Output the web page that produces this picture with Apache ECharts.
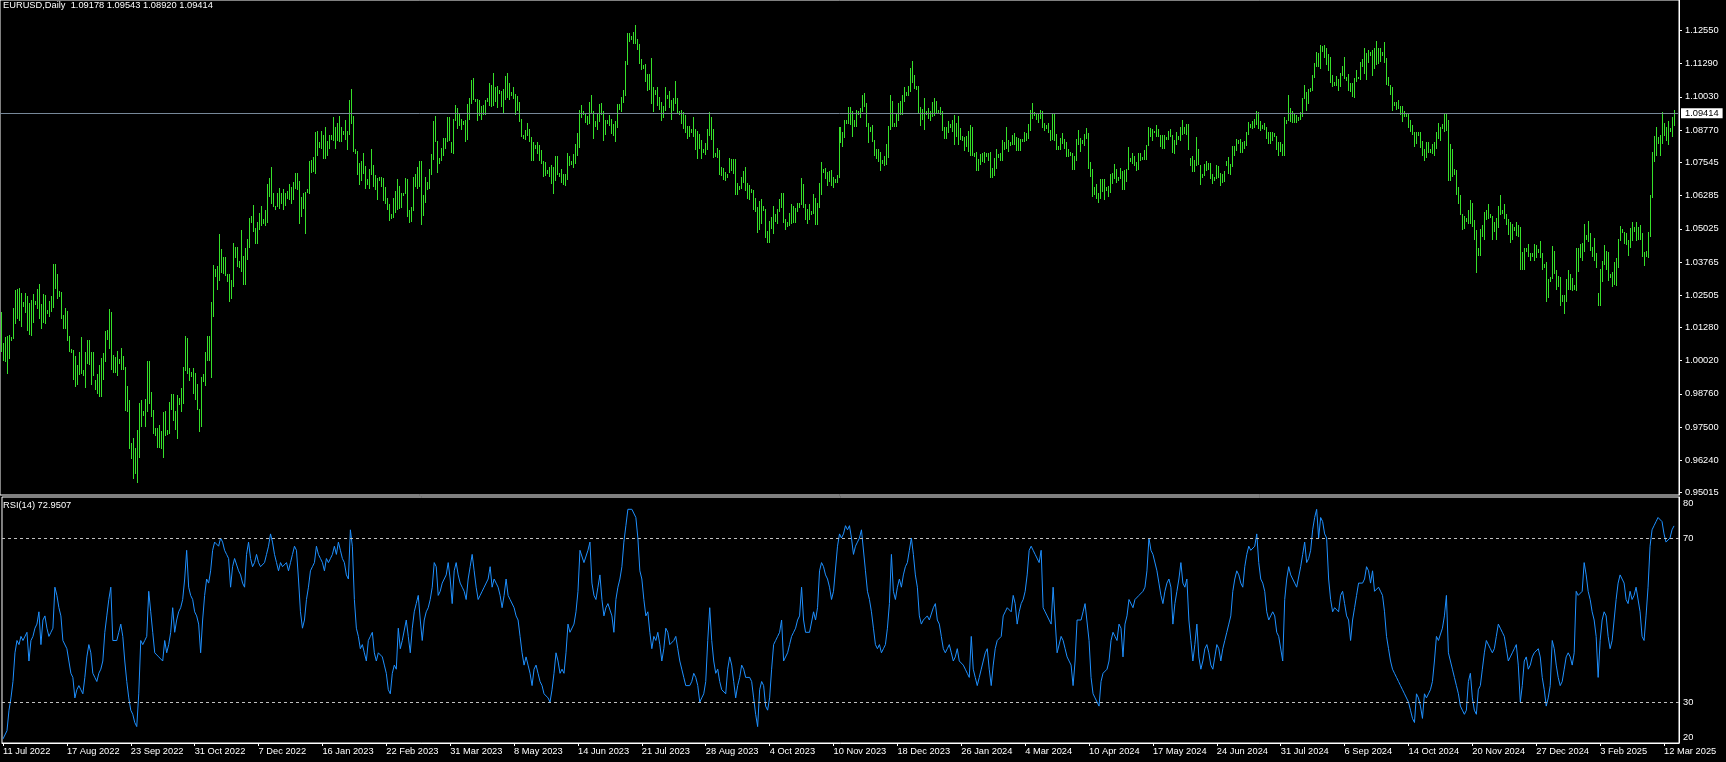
<!DOCTYPE html>
<html><head><meta charset="utf-8">
<script src="https://cdn.jsdelivr.net/npm/echarts@6/dist/echarts.min.js"></script>
<style>html,body{margin:0;padding:0;background:#000;overflow:hidden}#c{width:1726px;height:762px}</style>
</head><body><div id="c"></div><script>
const symbolTitle = 'EURUSD,Daily';
const lastOHLC = [1.09178, 1.09543, 1.08920, 1.09414];
const rsiTitle = 'RSI(14)';
const rsiLast = 72.9507;
const rsiLevels = [30, 70];
const rsiTicks = [20, 30, 70, 80];
const priceTicks = [0.95015, 0.96240, 0.97500, 0.98760, 1.00020, 1.01280, 1.02505, 1.03765, 1.05025, 1.06285, 1.07545, 1.08770, 1.10030, 1.11290, 1.12550];
const xTickLabels = ['11 Jul 2022','17 Aug 2022','23 Sep 2022','31 Oct 2022','7 Dec 2022','16 Jan 2023','22 Feb 2023','31 Mar 2023','8 May 2023','14 Jun 2023','21 Jul 2023','28 Aug 2023','4 Oct 2023','10 Nov 2023','18 Dec 2023','26 Jan 2024','4 Mar 2024','10 Apr 2024','17 May 2024','24 Jun 2024','31 Jul 2024','6 Sep 2024','14 Oct 2024','20 Nov 2024','27 Dec 2024','3 Feb 2025','12 Mar 2025'];
const barsPerTick = 32;

const highs = [
1.0185,1.0070,1.0090,1.0095,1.0098,1.0092,
1.0200,1.0269,1.0274,1.0278,1.0257,1.0225,
1.0258,1.0248,1.0220,1.0234,1.0254,1.0230,
1.0274,1.0294,1.0216,1.0254,1.0250,1.0195,
1.0229,1.0248,1.0368,1.0368,1.0329,1.0265,
1.0262,1.0174,1.0202,1.0191,1.0096,1.0048,
1.0043,1.0018,0.9986,1.0033,1.0090,0.9965,
1.0034,1.0080,1.0080,1.0036,1.0033,0.9930,
0.9951,0.9986,1.0011,1.0030,1.0113,1.0120,
1.0198,1.0187,1.0023,1.0017,1.0037,1.0010,
1.0050,1.0020,0.9976,0.9907,0.9853,0.9690,
0.9710,0.9669,0.9737,0.9842,0.9854,0.9810,
0.9855,0.9999,0.9999,0.9884,0.9813,0.9745,
0.9748,0.9757,0.9735,0.9806,0.9809,0.9740,
0.9846,0.9876,0.9875,0.9809,0.9871,0.9860,
0.9898,0.9976,1.0094,1.0088,0.9975,0.9960,
0.9975,0.9954,0.9914,0.9820,0.9940,0.9950,
1.0033,1.0096,1.0094,1.0223,1.0365,1.0350,
1.0363,1.0481,1.0425,1.0396,1.0395,1.0330,
1.0330,1.0307,1.0448,1.0433,1.0435,1.0380,
1.0497,1.0398,1.0428,1.0465,1.0545,1.0550,
1.0594,1.0505,1.0528,1.0564,1.0588,1.0540,
1.0574,1.0673,1.0695,1.0736,1.0638,1.0590,
1.0637,1.0658,1.0637,1.0655,1.0640,
1.0645,1.0671,1.0662,1.0680,1.0713,
1.0713,1.0685,1.0623,1.0638,1.0642,1.0655,
1.0760,1.0764,1.0776,1.0868,1.0874,1.0830,
1.0874,1.0857,1.0888,1.0837,1.0858,1.0860,
1.0927,1.0890,1.0905,1.0929,1.0887,1.0875,
1.0915,1.0874,1.0990,1.1033,1.0930,1.0805,
1.0797,1.0752,1.0760,1.0790,1.0742,1.0690,
1.0730,1.0805,1.0744,1.0705,1.0696,1.0700,
1.0700,1.0695,1.0661,1.0620,1.0598,1.0560,
1.0620,1.0645,1.0691,1.0665,1.0640,1.0640,
1.0696,1.0691,1.0575,1.0585,1.0700,1.0710,
1.0736,1.0760,1.0760,1.0630,1.0700,1.0680,
1.0729,1.0787,1.0912,1.0930,1.0837,1.0770,
1.0810,1.0846,1.0848,1.0925,1.0925,1.0830,
1.0918,1.0973,1.0960,1.0940,1.0920,1.0910,
1.0915,1.0975,1.0998,1.1068,1.1075,1.0995,
1.0996,1.0992,1.0970,1.0973,1.0990,1.1000,
1.1055,1.1050,1.1095,1.1041,1.1046,1.1030,
1.1027,1.1032,1.1082,1.1092,1.1055,1.1020,
1.1040,1.1015,1.1008,1.0985,1.0919,1.0860,
1.0877,1.0905,1.0880,1.0850,1.0830,1.0820,
1.0830,1.0820,1.0800,1.0760,1.0755,1.0725,
1.0737,1.0746,1.0736,1.0779,1.0780,1.0715,
1.0730,1.0710,1.0710,1.0790,1.0780,1.0760,
1.0787,1.0824,1.0865,1.0952,1.0971,1.0950,
1.0940,1.0930,1.0985,1.1012,1.0951,1.0910,
1.0940,1.0977,1.0980,1.0950,1.0917,1.0915,
1.0935,1.0918,1.0902,1.0913,1.0975,1.0975,
1.1003,1.1030,1.1140,1.1245,1.1245,1.1235,
1.1248,1.1276,1.1223,1.1203,1.1146,1.1125,
1.1128,1.1090,1.1090,1.1149,1.1042,1.1030,
1.1041,1.1002,1.0982,1.0970,1.1042,1.1010,
1.1024,1.0990,1.1000,1.1064,1.1000,1.0950,
1.0953,1.0947,1.0934,1.0891,1.0893,1.0880,
1.0926,1.0883,1.0875,1.0863,1.0840,1.0805,
1.0827,1.0882,1.0945,1.0925,1.0882,1.0790,
1.0810,1.0800,1.0737,1.0734,1.0717,1.0710,
1.0770,1.0768,1.0768,1.0768,1.0675,1.0665,
1.0699,1.0720,1.0737,1.0678,1.0670,1.0655,
1.0649,1.0618,1.0585,1.0607,1.0617,1.0590,
1.0578,1.0493,1.0531,1.0549,1.0590,1.0560,
1.0578,1.0614,1.0640,1.0640,1.0540,1.0530,
1.0564,1.0595,1.0590,1.0582,1.0601,1.0600,
1.0695,1.0673,1.0596,1.0578,1.0595,1.0570,
1.0636,1.0619,1.0602,1.0677,1.0756,1.0730,
1.0735,1.0717,1.0722,1.0724,1.0700,1.0690,
1.0705,1.0887,1.0890,1.0870,1.0917,1.0915,
1.0966,1.0965,1.0950,1.0915,1.0955,1.0950,
1.0960,1.1010,1.1017,1.0980,1.0905,1.0890,
1.0896,1.0838,1.0807,1.0806,1.0794,1.0765,
1.0780,1.0826,1.0894,1.1009,1.0987,1.0905,
1.0940,1.0981,1.0988,1.1012,1.1040,1.1020,
1.1045,1.1112,1.1139,1.1085,1.1045,
1.1046,1.0965,1.0957,1.0998,1.0950,
1.0960,1.0950,1.0983,1.0999,1.0987,1.0955,
1.0966,1.0950,1.0890,1.0890,1.0913,1.0900,
1.0915,1.0933,1.0905,1.0932,1.0885,1.0855,
1.0850,1.0856,1.0873,1.0897,1.0887,1.0790,
1.0795,1.0768,1.0785,1.0790,1.0795,1.0790,
1.0790,1.0795,1.0735,1.0770,1.0806,1.0785,
1.0789,1.0838,1.0830,1.0889,1.0840,1.0830,
1.0857,1.0866,1.0850,1.0846,1.0845,1.0845,
1.0868,1.0866,1.0902,1.0953,1.0981,1.0945,
1.0941,1.0937,1.0953,1.0950,1.0905,1.0895,
1.0905,1.0876,1.0942,1.0942,1.0863,1.0815,
1.0846,1.0865,1.0843,1.0830,1.0805,1.0795,
1.0790,1.0778,1.0843,1.0876,1.0846,1.0840,
1.0862,1.0885,1.0866,1.0756,1.0730,1.0660,
1.0672,1.0640,1.0690,1.0690,1.0690,1.0660,
1.0666,1.0712,1.0713,1.0750,1.0730,1.0700,
1.0732,1.0720,1.0726,1.0730,1.0812,1.0770,
1.0790,1.0779,1.0757,1.0790,1.0790,1.0775,
1.0800,1.0820,1.0887,1.0885,1.0880,1.0875,
1.0895,1.0880,1.0860,1.0860,1.0858,1.0850,
1.0873,1.0880,1.0860,1.0840,1.0869,1.0855,
1.0890,1.0916,1.0890,1.0902,1.0900,1.0770,
1.0780,1.0765,1.0852,1.0805,1.0746,1.0710,
1.0748,1.0761,1.0754,1.0752,1.0712,1.0700,
1.0744,1.0740,1.0713,1.0712,1.0720,1.0760,
1.0775,1.0748,1.0815,1.0818,1.0845,1.0840,
1.0845,1.0830,1.0835,1.0870,1.0907,1.0900,
1.0910,1.0920,1.0948,1.0945,1.0910,1.0895,
1.0905,1.0890,1.0871,1.0868,1.0870,1.0865,
1.0854,1.0832,1.0830,1.0825,1.0926,1.0915,
1.1009,1.0960,1.0950,1.0938,1.0935,1.0925,
1.0945,1.1000,1.1047,1.1020,1.1032,1.1035,
1.1085,1.1130,1.1175,1.1170,1.1201,1.1195,
1.1200,1.1190,1.1165,1.1155,1.1088,1.1060,
1.1081,1.1072,1.1095,1.1120,1.1155,1.1080,
1.1090,1.1055,1.1054,1.1075,1.1105,1.1080,
1.1137,1.1146,1.1190,1.1170,1.1180,1.1175,
1.1180,1.1190,1.1214,1.1190,1.1190,1.1175,
1.1210,1.1150,1.1080,1.1050,1.1040,1.0985,
1.0985,1.0990,1.0970,1.0970,1.0950,1.0940,
1.0940,1.0915,1.0895,1.0870,1.0870,1.0870,
1.0870,1.0836,1.0806,1.0830,1.0833,1.0805,
1.0826,1.0830,1.0870,1.0905,1.0890,1.0900,
1.0937,1.0937,1.0915,1.0826,1.0805,1.0730,
1.0727,1.0660,1.0630,1.0560,1.0550,1.0545,
1.0575,1.0610,1.0600,1.0535,1.0497,1.0430,
1.0500,1.0515,1.0565,1.0575,1.0596,1.0560,
1.0550,1.0530,1.0545,1.0590,1.0630,1.0575,
1.0595,1.0560,1.0540,1.0530,1.0520,1.0510,
1.0530,1.0515,1.0510,1.0415,1.0430,1.0430,
1.0445,1.0410,1.0412,1.0445,1.0440,1.0425,
1.0455,1.0410,1.0370,1.0375,1.0310,1.0320,
1.0437,1.0420,1.0345,1.0325,1.0320,1.0250,
1.0250,1.0310,1.0345,1.0330,1.0315,1.0290,
1.0430,1.0430,1.0445,1.0450,1.0520,1.0480,
1.0533,1.0485,1.0432,1.0468,1.0410,1.0260,
1.0350,1.0380,1.0442,1.0420,1.0414,1.0330,
1.0340,1.0375,1.0390,1.0465,1.0513,1.0500,
1.0490,1.0485,1.0460,1.0505,1.0528,1.0510,
1.0528,1.0510,1.0515,1.0485,1.0415,1.0420,
1.0490,1.0630,1.0795,1.0855,1.0890,1.0850,
1.0860,1.0945,1.0905,1.0890,1.0910,1.0885,
1.0925,1.09543
];

const lows = [
1.0035,0.9999,0.9998,0.9952,1.0008,1.0075,
1.0085,1.0140,1.0160,1.0153,1.0130,1.0205,
1.0181,1.0114,1.0098,1.0097,1.0145,1.0212,
1.0197,1.0160,1.0123,1.0145,1.0141,1.0178,
1.0166,1.0187,1.0202,1.0274,1.0236,1.0245,
1.0160,1.0122,1.0123,1.0077,1.0034,1.0030,
0.9927,0.9901,0.9910,0.9948,0.9950,0.9945,
0.9900,0.9990,0.9986,0.9910,0.9945,0.9890,
0.9877,0.9864,0.9865,0.9930,0.9998,1.0080,
1.0045,0.9966,0.9955,0.9956,0.9945,0.9990,
0.9966,0.9967,0.9812,0.9807,0.9668,0.9630,
0.9553,0.9573,0.9536,0.9632,0.9749,0.9790,
0.9750,0.9806,0.9836,0.9788,0.9722,0.9715,
0.9671,0.9669,0.9668,0.9632,0.9716,0.9720,
0.9724,0.9813,0.9771,0.9739,0.9705,0.9835,
0.9807,0.9838,0.9964,0.9950,0.9924,0.9940,
0.9875,0.9852,0.9814,0.9730,0.9749,0.9920,
0.9905,0.9999,0.9999,0.9935,1.0166,1.0320,
1.0271,1.0305,1.0335,1.0331,1.0322,1.0300,
1.0223,1.0236,1.0280,1.0391,1.0359,1.0355,
1.0340,1.0290,1.0290,1.0385,1.0430,1.0525,
1.0490,1.0443,1.0443,1.0497,1.0514,1.0520,
1.0512,1.0525,1.0623,1.0595,1.0584,1.0575,
1.0585,1.0579,1.0595,1.0572,1.0589,
1.0615,1.0610,1.0597,1.0610,1.0655,
1.0650,1.0519,1.0549,1.0577,1.0482,1.0640,
1.0636,1.0714,1.0719,1.0710,1.0780,1.0810,
1.0806,1.0767,1.0766,1.0780,1.0805,1.0840,
1.0835,1.0804,1.0835,1.0833,1.0833,1.0860,
1.0838,1.0801,1.0860,1.0900,1.0795,1.0785,
1.0706,1.0669,1.0685,1.0712,1.0654,1.0670,
1.0655,1.0705,1.0660,1.0650,1.0613,1.0685,
1.0660,1.0607,1.0595,1.0575,1.0533,1.0540,
1.0545,1.0562,1.0573,1.0577,1.0582,1.0625,
1.0633,1.0546,1.0524,1.0528,1.0570,1.0660,
1.0655,1.0660,1.0516,1.0550,1.0600,1.0650,
1.0655,1.0705,1.0762,1.0830,1.0713,1.0750,
1.0760,1.0780,1.0806,1.0830,1.0835,1.0790,
1.0788,1.0910,1.0880,1.0892,1.0876,1.0895,
1.0831,1.0838,1.0915,1.0977,1.0990,1.0985,
1.0910,1.0930,1.0915,1.0935,1.0935,1.0985,
1.0970,1.0965,1.0970,1.0983,1.0961,1.1015,
1.0964,1.0942,1.0990,1.1000,1.0993,1.1005,
1.0995,1.0935,1.0950,1.0908,1.0850,1.0845,
1.0838,1.0855,1.0833,1.0760,1.0760,1.0805,
1.0785,1.0760,1.0748,1.0700,1.0703,1.0710,
1.0700,1.0672,1.0635,1.0685,1.0705,1.0700,
1.0676,1.0667,1.0663,1.0686,1.0740,1.0745,
1.0733,1.0750,1.0780,1.0810,1.0922,1.0935,
1.0904,1.0898,1.0900,1.0940,1.0844,1.0890,
1.0877,1.0907,1.0935,1.0835,1.0860,1.0900,
1.0892,1.0863,1.0854,1.0833,1.0885,1.0955,
1.0945,1.0980,1.1005,1.1125,1.1210,1.1220,
1.1205,1.1205,1.1182,1.1127,1.1104,1.1110,
1.1060,1.1025,1.1031,1.0976,1.0944,1.1010,
1.0970,1.0955,1.0912,1.0923,1.0950,1.0995,
1.0962,1.0915,1.0950,1.0976,1.0940,1.0935,
1.0902,1.0880,1.0867,1.0845,1.0850,1.0865,
1.0850,1.0802,1.0766,1.0805,1.0766,1.0790,
1.0782,1.0800,1.0855,1.0840,1.0771,1.0775,
1.0773,1.0705,1.0702,1.0686,1.0685,1.0695,
1.0715,1.0723,1.0710,1.0631,1.0632,1.0650,
1.0653,1.0676,1.0645,1.0617,1.0613,1.0640,
1.0572,1.0568,1.0488,1.0496,1.0521,1.0570,
1.0467,1.0448,1.0448,1.0502,1.0482,1.0530,
1.0520,1.0565,1.0580,1.0525,1.0496,1.0510,
1.0513,1.0522,1.0524,1.0525,1.0565,1.0580,
1.0592,1.0582,1.0535,1.0522,1.0534,1.0555,
1.0560,1.0516,1.0517,1.0580,1.0630,1.0715,
1.0690,1.0666,1.0680,1.0665,1.0656,1.0675,
1.0675,1.0695,1.0828,1.0814,1.0847,1.0900,
1.0900,1.0895,1.0852,1.0888,1.0890,1.0935,
1.0922,1.0944,1.0964,1.0888,1.0829,1.0870,
1.0830,1.0779,1.0766,1.0757,1.0723,1.0750,
1.0740,1.0744,1.0773,1.0878,1.0888,1.0890,
1.0888,1.0912,1.0935,1.0935,1.0985,1.1005,
1.1005,1.1020,1.1055,1.1034,1.1030,
1.0940,1.0893,1.0917,1.0877,1.0935,
1.0920,1.0910,1.0925,1.0929,1.0937,1.0940,
1.0936,1.0875,1.0844,1.0845,1.0866,1.0885,
1.0870,1.0822,1.0850,1.0820,1.0838,1.0835,
1.0796,1.0812,1.0795,1.0780,1.0780,1.0775,
1.0722,1.0723,1.0745,1.0755,1.0752,1.0775,
1.0761,1.0695,1.0695,1.0702,1.0730,1.0770,
1.0761,1.0761,1.0801,1.0805,1.0795,1.0815,
1.0820,1.0821,1.0796,1.0796,1.0796,1.0830,
1.0832,1.0837,1.0845,1.0872,1.0920,1.0930,
1.0915,1.0904,1.0920,1.0885,1.0874,1.0880,
1.0866,1.0836,1.0838,1.0834,1.0802,1.0800,
1.0803,1.0823,1.0805,1.0775,1.0775,1.0780,
1.0724,1.0725,1.0760,1.0820,1.0792,1.0825,
1.0815,1.0842,1.0728,1.0700,1.0622,1.0630,
1.0617,1.0601,1.0617,1.0643,1.0610,1.0645,
1.0624,1.0637,1.0673,1.0690,1.0675,1.0685,
1.0690,1.0650,1.0649,1.0680,1.0727,1.0755,
1.0749,1.0742,1.0723,1.0724,1.0760,1.0765,
1.0765,1.0765,1.0815,1.0852,1.0835,1.0865,
1.0850,1.0850,1.0812,1.0805,1.0805,1.0840,
1.0840,1.0851,1.0790,1.0788,1.0820,1.0840,
1.0835,1.0858,1.0862,1.0860,1.0800,1.0740,
1.0719,1.0718,1.0742,1.0743,1.0668,1.0695,
1.0703,1.0722,1.0726,1.0691,1.0671,1.0685,
1.0692,1.0695,1.0666,1.0676,1.0679,1.0740,
1.0710,1.0708,1.0738,1.0780,1.0798,1.0825,
1.0790,1.0790,1.0805,1.0815,1.0860,1.0885,
1.0880,1.0885,1.0895,1.0880,1.0872,1.0880,
1.0877,1.0845,1.0824,1.0825,1.0835,1.0850,
1.0802,1.0777,1.0795,1.0778,1.0780,1.0900,
1.0912,1.0906,1.0905,1.0905,1.0905,1.0910,
1.0915,1.0925,1.0995,1.0948,1.0975,1.1020,
1.1025,1.1075,1.1115,1.1115,1.1110,1.1175,
1.1151,1.1125,1.1102,1.1055,1.1040,1.1045,
1.1045,1.1026,1.1040,1.1083,1.1070,1.1065,
1.1025,1.1020,1.1001,1.0997,1.1060,1.1070,
1.1066,1.1115,1.1090,1.1068,1.1130,1.1160,
1.1082,1.1110,1.1123,1.1128,1.1135,1.1160,
1.1130,1.1050,1.1045,1.1009,1.0950,1.0970,
1.0955,1.0957,1.0935,1.0907,1.0925,1.0925,
1.0885,1.0870,1.0860,1.0811,1.0825,1.0855,
1.0810,1.0780,1.0761,1.0770,1.0790,1.0790,
1.0788,1.0780,1.0805,1.0845,1.0835,1.0880,
1.0870,1.0875,1.0683,1.0685,1.0700,1.0705,
1.0630,1.0595,1.0555,1.0496,1.0500,1.0530,
1.0522,1.0522,1.0510,1.0461,1.0335,1.0400,
1.0400,1.0470,1.0460,1.0535,1.0540,1.0545,
1.0460,1.0490,1.0460,1.0505,1.0555,1.0560,
1.0540,1.0515,1.0480,1.0450,1.0460,1.0495,
1.0475,1.0473,1.0345,1.0345,1.0345,1.0415,
1.0395,1.0380,1.0395,1.0380,1.0390,1.0410,
1.0390,1.0345,1.0355,1.0226,1.0240,1.0300,
1.0310,1.0330,1.0270,1.0280,1.0210,1.0225,
1.0178,1.0226,1.0270,1.0270,1.0265,1.0270,
1.0265,1.0340,1.0390,1.0380,1.0415,1.0460,
1.0452,1.0420,1.0395,1.0380,1.0355,1.0210,
1.0210,1.0300,1.0365,1.0345,1.0305,1.0315,
1.0283,1.0290,1.0285,1.0355,1.0455,1.0485,
1.0445,1.0440,1.0400,1.0430,1.0455,1.0490,
1.0455,1.0460,1.0460,1.0395,1.0360,1.0395,
1.0390,1.0470,1.0620,1.0755,1.0780,1.0825,
1.0780,1.0825,1.0855,1.0835,1.0820,1.0870,
1.0850,1.08920
];

const rsi = [
21,21,23,28,31,35,42,45,44,46,45,45,47,40,45,46,48,49,52,44,
50,51,48,46,47,48,58,56,53,51,45,45,43,40,37,36,31,33,34,33,
32,36,41,44,42,37,36,35,37,38,40,47,51,55,58,45,45,45,47,49,
46,40,35,31,28,27,25,24,32,45,44,45,46,57,52,47,42,42,41,41,
40,45,42,44,47,53,47,50,52,53,55,60,67,58,56,55,52,51,49,42,
50,56,60,59,62,67,69,69,68,70,69,67,66,65,58,63,65,65,62,61,
59,58,66,69,65,63,64,66,64,63,63,64,66,68,71,69,66,64,62,64,
63,63,64,62,64,66,68,67,60,52,48,50,55,58,62,63,64,68,66,65,
64,62,65,64,65,66,68,66,69,67,65,64,61,60,72,68,55,48,46,43,
44,42,40,45,46,47,42,40,42,42,41,39,37,33,32,37,39,38,48,43,
45,45,50,46,42,48,52,54,56,50,45,50,52,53,55,58,64,
63,56,57,59,60,61,64,60,54,62,64,61,59,58,57,55,60,63,66,62,
58,55,56,57,58,58,60,63,58,60,59,58,56,53,56,60,56,55,55,53,
51,50,46,42,39,41,39,37,34,38,39,37,35,34,32,32,31,30,33,37,
42,40,37,38,37,42,49,47,47,49,52,57,67,67,64,64,67,69,59,56,
55,58,61,55,51,53,54,54,51,47,55,58,60,63,69,73,77,77,77,77,
75,70,62,60,55,51,52,47,43,46,45,47,44,40,43,48,47,44,44,45,
46,43,40,38,36,34,34,34,35,37,36,34,30,31,32,35,45,53,45,40,
37,38,35,33,33,32,38,41,39,35,31,34,36,39,38,36,36,36,35,31,
27,24,33,35,34,29,28,31,38,44,45,46,47,50,40,40,42,44,46,47,
48,50,51,58,50,47,47,47,47,52,50,53,62,64,63,61,60,58,55,57,
57,68,71,70,71,73,72,73,70,66,
68,69,70,72,72,62,57,55,52,48,44,43,44,42,43,44,48,54,66,57,
55,58,60,58,61,63,64,67,70,66,61,58,51,49,50,50,51,50,50,53,
54,50,49,46,43,42,43,44,42,40,41,43,40,40,39,38,37,36,46,38,
36,34,36,38,40,42,43,38,34,39,43,45,45,46,51,52,53,53,52,56,
54,49,52,54,55,57,61,67,68,67,66,66,64,67,53,52,51,50,49,58,
50,42,42,46,45,43,41,40,39,34,40,50,50,50,52,54,54,45,36,32,
31,30,29,35,37,37,38,40,45,47,46,45,49,48,41,49,51,55,55,53,
55,55,56,56,57,58,62,70,67,66,66,62,59,56,54,57,59,60,58,49,
54,57,60,64,59,58,60,50,45,40,44,49,41,38,40,43,44,42,39,38,
41,44,43,40,43,45,47,49,51,57,60,62,61,59,58,63,66,68,67,67,
68,71,64,60,59,57,52,50,51,52,
51,47,46,46,40,55,60,63,61,60,59,58,58,63,66,69,64,65,67,72,
75,77,70,75,74,71,70,60,55,52,53,53,52,56,57,54,51,50,45,50,
53,56,59,59,59,60,63,62,59,62,57,57,58,57,56,52,46,43,40,38,
37,36,35,34,33,32,32,30,28,26,25,32,31,29,26,32,31,32,33,35,
40,46,45,45,48,51,56,42,40,38,36,34,32,29,28,27,28,35,37,31,
28,27,33,34,38,42,45,45,43,42,43,46,49,48,47,46,43,40,41,42,
43,44,39,30,34,40,41,38,39,41,42,42,43,41,36,33,29,31,34,45,
43,39,36,34,35,38,41,42,41,39,42,57,56,56,57,64,61,57,55,52,
50,46,36,45,50,52,51,46,43,45,50,55,59,61,60,59,55,54,57,55,
56,58,58,52,46,45,51,58,68,72,73,74,75,75,74,71,69,69,70,72,
72.95
];

const barColor = '#36e02a';
const font = '"Liberation Sans", Arial, sans-serif';
const fs = 9.3;
const n = highs.length;
const cats = [];
for (let i = 0; i < n + 2; i++) cats.push(String(i));
const bars = highs.map((h, i) => [i, h, lows[i]]);
const tickAt = (idx) => idx % barsPerTick === 0;

const chart = echarts.init(document.getElementById('c'), null, {renderer: 'canvas'});
chart.setOption({
  animation: false,
  backgroundColor: '#000',
  grid: [
    {left: -2, top: 0, width: 1681, height: 495, show: true, borderColor: '#fff', borderWidth: 1, containLabel: false},
    {left: -2, top: 497, width: 1681, height: 246, show: true, borderColor: '#fff', borderWidth: 1, containLabel: false}
  ],
  xAxis: [
    {type: 'category', gridIndex: 0, data: cats, boundaryGap: true,
     axisLine: {show: false}, axisTick: {show: false}, axisLabel: {show: false}, splitLine: {show: false}},
    {type: 'category', gridIndex: 1, data: cats, boundaryGap: true,
     axisLine: {show: true, lineStyle: {color: '#fff', width: 1}},
     axisTick: {show: true, interval: tickAt, alignWithLabel: true, length: 3, lineStyle: {color: '#fff'}},
     axisLabel: {show: true, interval: tickAt, color: '#fff', fontSize: fs, fontFamily: font, align: 'left', margin: 4,
       formatter: (v, idx) => xTickLabels[Math.round(idx / barsPerTick)] || ''},
     splitLine: {show: false}}
  ],
  yAxis: [
    {type: 'value', gridIndex: 0, position: 'right', min: 0.9492, max: 1.13708,
     splitLine: {show: false},
     axisLine: {show: true, lineStyle: {color: '#fff'}},
     axisTick: {show: true, length: 3, lineStyle: {color: '#fff'}, customValues: priceTicks},
     axisLabel: {show: true, color: '#fff', fontSize: fs, fontFamily: font, margin: 6, customValues: priceTicks,
       formatter: v => v.toFixed(5)}},
    {type: 'value', gridIndex: 1, position: 'right', min: 20, max: 80,
     splitLine: {show: false},
     axisLine: {show: true, lineStyle: {color: '#fff'}},
     axisTick: {show: false, customValues: rsiTicks},
     axisLabel: {show: true, color: '#fff', fontSize: fs, fontFamily: font, margin: 4, customValues: rsiTicks,
       formatter: v => v === rsiTicks[3] ? '{t|' + v + '}' : (v === rsiTicks[0] ? '{b|' + v + '}' : String(v)),
       rich: {t: {padding: [13, 0, 0, 0], color: '#fff', fontSize: fs, fontFamily: font},
              b: {padding: [0, 0, 12, 0], color: '#fff', fontSize: fs, fontFamily: font}}}}
  ],
  series: [
    {type: 'custom', xAxisIndex: 0, yAxisIndex: 0, data: bars, clip: true,
     encode: {x: 0, y: [1, 2]},
     renderItem: (params, api) => {
       const top = api.coord([api.value(0), api.value(1)]);
       const bot = api.coord([api.value(0), api.value(2)]);
       const x = Math.round(top[0]) + 0.5;
       const y1 = Math.round(top[1]);
       let y2 = Math.round(bot[1]);
       if (y2 - y1 < 2) y2 = y1 + 2;
       return {type: 'line', shape: {x1: x, y1: y1, x2: x, y2: y2}, style: {stroke: barColor, lineWidth: 1}};
     },
     markLine: {silent: true, symbol: 'none', animation: false, precision: 5,
       lineStyle: {color: '#778899', type: 'solid', width: 1},
       label: {show: true, position: 'end', distance: 2, formatter: () => lastOHLC[3].toFixed(5),
         color: '#000', backgroundColor: '#fff', padding: [1, 4, 0, 4], fontSize: fs, fontFamily: font, lineHeight: 9},
       data: [{yAxis: lastOHLC[3]}]}},
    {type: 'line', xAxisIndex: 1, yAxisIndex: 1, data: rsi, showSymbol: false, symbol: 'none',
     lineStyle: {color: '#1E90FF', width: 1}, silent: true,
     markLine: {silent: true, symbol: 'none', animation: false, label: {show: false},
       lineStyle: {color: '#c0c0c0', type: [3, 3], width: 1},
       data: rsiLevels.map(v => ({yAxis: v}))}}
  ],
  graphic: [
    {type: 'text', left: 3, top: 1, silent: true,
     style: {text: symbolTitle + '  ' + lastOHLC.map(v => v.toFixed(5)).join(' '), fill: '#fff', font: fs + 'px ' + font}},
    {type: 'text', left: 3, top: 501, silent: true,
     style: {text: rsiTitle + ' ' + rsiLast.toFixed(4), fill: '#fff', font: fs + 'px ' + font}}
  ]
});
</script></body></html>
